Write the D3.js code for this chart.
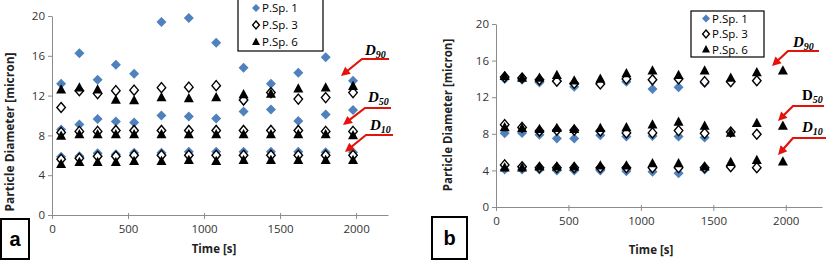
<!DOCTYPE html>
<html>
<head>
<meta charset="utf-8">
<script src="https://cdn.jsdelivr.net/npm/d3@7"></script>
<style>
  body { margin: 0; background: #fff; }
  svg { display: block; font-family: "Open Sans", "DejaVu Sans", sans-serif; }
</style>
</head>
<body>
<div id="chart"></div>
<script>
// sample times [s]
times = [60, 180, 300, 420, 540, 720, 900, 1080, 1260, 1440, 1620, 1800, 1980]
seriesNames = ["P.Sp. 1", "P.Sp. 3", "P.Sp. 6"]
yTicks = [0, 4, 8, 12, 16, 20]
xTicks = [0, 500, 1000, 1500, 2000]

// panel a  (D90, D50, D10 per series)
a_sp1_d90 = [13.2, 16.25, 13.6, 15.1, 14.2, 19.4, 19.8, 17.3, 14.8, 13.2, 14.3, 15.85, 13.5]
a_sp1_d50 = [8.6, 9.1, 9.65, 9.4, 9.3, 10.0, 9.9, 9.7, 10.4, 10.6, 9.45, 10.1, 10.55]
a_sp1_d10 = [5.85, 5.9, 6.2, 6.1, 6.25, 6.25, 6.35, 6.35, 6.35, 6.35, 6.35, 6.3, 6.3]
a_sp3_d90 = [10.8, 12.5, 12.2, 12.5, 12.55, 12.8, 12.85, 13.0, 11.55, 12.3, 11.65, 11.8, 12.3]
a_sp3_d50 = [8.3, 8.4, 8.4, 8.5, 8.5, 8.5, 8.5, 8.5, 8.5, 8.5, 8.5, 8.4, 8.4]
a_sp3_d10 = [5.6, 5.7, 5.9, 5.9, 6.0, 6.0, 6.0, 6.0, 6.0, 6.0, 6.0, 6.0, 6.0]
a_sp6_d90 = [12.6, 12.8, 12.6, 11.55, 11.5, 11.8, 11.7, 11.8, 12.1, 12.15, 12.7, 12.8, 12.95]
a_sp6_d50 = [7.95, 8.1, 8.1, 8.1, 8.1, 8.1, 8.1, 8.1, 8.1, 8.1, 8.1, 8.1, 8.0]
a_sp6_d10 = [5.1, 5.3, 5.3, 5.3, 5.4, 5.4, 5.5, 5.4, 5.5, 5.5, 5.5, 5.5, 5.5]

// panel b  (null = no point)
b_sp1_d90 = [14.0, 13.9, 13.6, 13.8, 13.15, 13.5, 13.7, 12.9, 13.1, 13.55, null, null, null]
b_sp1_d50 = [8.05, 8.1, 7.9, 7.5, 7.5, 7.85, 7.7, 7.75, 7.7, 7.6, null, null, null]
b_sp1_d10 = [4.1, 4.1, 4.1, 4.0, 4.0, 4.0, 3.9, 3.85, 3.7, 4.1, null, null, null]
b_sp3_d90 = [14.2, 14.1, 13.9, 13.75, 13.5, 13.45, 14.0, 13.9, 14.0, 13.7, 13.7, 13.8, null]
b_sp3_d50 = [9.0, 8.7, 8.3, 8.4, 8.4, 8.3, 8.1, 8.1, 8.35, 8.05, 8.2, 7.95, null]
b_sp3_d10 = [4.6, 4.4, 4.3, 4.3, 4.3, 4.3, 4.3, 4.3, 4.3, 4.3, 4.4, 4.3, null]
b_sp6_d90 = [14.3, 14.1, 14.1, 14.4, 13.8, 14.0, 14.6, 14.9, 14.4, 14.9, 14.1, 14.7, 14.9]
b_sp6_d50 = [8.7, 8.6, 8.5, 8.6, 8.5, 8.6, 8.7, 9.0, 9.3, 8.85, 8.1, 9.15, 8.85]
b_sp6_d10 = [4.3, 4.3, 4.4, 4.4, 4.4, 4.5, 4.5, 4.75, 4.75, 4.4, 4.9, 5.1, 4.95]

const blue = "#4f81bd"
const axisGrey = "#8c8c8c"
const arrowRed = "#e3120b"

const svg = d3.select("#chart").append("svg")
    .attr("width", 839)
    .attr("height", 264)

function marker(g, kind, x, y, s) {
    if (kind == 0) {
        g.append("path")
            .attr("d", `M${x},${y - s}L${x + s},${y}L${x},${y + s}L${x - s},${y}Z`)
            .attr("fill", blue)
    } else if (kind == 1) {
        g.append("path")
            .attr("d", `M${x},${y - s}L${x + s * 0.85},${y}L${x},${y + s}L${x - s * 0.85},${y}Z`)
            .attr("fill", "#fff")
            .attr("stroke", "#000")
            .attr("stroke-width", 1.4)
    } else {
        g.append("path")
            .attr("d", `M${x},${y - s * 1.1}L${x + s},${y + s * 0.75}L${x - s},${y + s * 0.75}Z`)
            .attr("fill", "#000")
    }
}

function drawPanel(p) {
    const x = d3.scaleLinear().domain([0, p.xMax]).range([p.left, p.right])
    const y = d3.scaleLinear().domain([0, 20]).range([p.bottom, p.top])
    const g = svg.append("g")

    const yAxis = g.append("g")
        .attr("transform", `translate(${p.left},0)`)
        .call(d3.axisLeft(y).tickValues(yTicks).tickSize(4).tickSizeOuter(0))
    const xAxis = g.append("g")
        .attr("transform", `translate(0,${p.bottom})`)
        .call(d3.axisBottom(x).tickValues(xTicks).tickFormat(d3.format("d")).tickSize(4).tickSizeOuter(0))
    for (const ax of [yAxis, xAxis]) {
        ax.select(".domain").attr("stroke", axisGrey)
        ax.selectAll(".tick line").attr("stroke", axisGrey)
        ax.selectAll("text").attr("font-size", 11.5).attr("fill", "#333")
            .attr("font-family", "'Open Sans', sans-serif")
    }
    xAxis.selectAll(".tick line").attr("y1", -2)
    xAxis.selectAll("text").attr("dy", "0.9em").attr("y", 8)
    yAxis.selectAll("text").attr("x", -7)

    // axis titles
    g.append("text")
        .attr("transform", `translate(${p.yTitleX},${p.yTitleY}) rotate(-90)`)
        .attr("text-anchor", "middle")
        .attr("font-size", p.yTitleSize).attr("font-weight", "bold").attr("fill", "#222")
        .text("Particle Diameter [micron]")
    g.append("text")
        .attr("x", p.xTitleX).attr("y", p.xTitleY)
        .attr("text-anchor", "middle")
        .attr("font-size", 11.5).attr("font-weight", "bold").attr("fill", "#222")
        .text("Time [s]")

    // points: draw series 1, then 3, then 6 so triangles sit on top
    const pts = g.append("g")
    p.series.forEach((groups, k) => {
        for (const vals of groups) {
            vals.forEach((v, i) => {
                if (v != null) marker(pts, k, x(times[i]), y(v), 5)
            })
        }
    })

    // legend
    const lg = g.append("g")
    lg.append("rect")
        .attr("x", p.legX).attr("y", p.legY).attr("width", p.legW).attr("height", p.legH)
        .attr("fill", "#fff").attr("stroke", "#000").attr("stroke-width", 1.2)
    seriesNames.forEach((name, k) => {
        const ly = p.legY + p.legRow0 + k * p.legStep
        marker(lg, k, p.legX + p.legMarkX, ly, 4)
        lg.append("text")
            .attr("x", p.legX + p.legMarkX + 6).attr("y", ly + 4)
            .attr("font-size", 11.5).attr("fill", "#000")
            .text(name)
    })

    // panel letter box
    g.append("rect")
        .attr("x", p.boxX).attr("y", p.boxY).attr("width", p.boxW).attr("height", p.boxH)
        .attr("fill", "#fff").attr("stroke", "#000").attr("stroke-width", 2)
    g.append("text")
        .attr("x", p.boxX + p.boxW / 2).attr("y", p.boxY + p.boxH / 2 + 7)
        .attr("text-anchor", "middle")
        .attr("font-size", 20).attr("font-weight", "bold")
        .attr("font-family", "'Liberation Sans', Arial, sans-serif")
        .text(p.letter)

    // D labels with red arrows
    for (const d of p.dLabels) {
        const t = g.append("text")
            .attr("x", d.tx).attr("y", d.ty)
            .attr("font-family", "'Liberation Serif', 'Times New Roman', serif")
            .attr("font-weight", "bold")
            .attr("font-style", d.italic ? "italic" : "normal")
        t.append("tspan").attr("font-size", 15).text("D")
        t.append("tspan").attr("font-size", 10).attr("font-style", "italic").attr("dy", 3).text(d.sub)

        g.append("path")
            .attr("d", `M${d.x0},${d.y0}L${d.x1},${d.y0}L${d.x2 + (d.x1 - d.x2) * 0.28},${d.y2 - (d.y2 - d.y0) * 0.28}`)
            .attr("fill", "none").attr("stroke", arrowRed).attr("stroke-width", 2.2)
        // arrowhead
        const ang = Math.atan2(d.y2 - d.y0, d.x2 - d.x1)
        const L = 9, W = 4.5
        const bx = d.x2 - L * Math.cos(ang), by = d.y2 - L * Math.sin(ang)
        const nx = -Math.sin(ang) * W, ny = Math.cos(ang) * W
        g.append("path")
            .attr("d", `M${d.x2},${d.y2}L${bx + nx},${by + ny}L${bx - nx},${by - ny}Z`)
            .attr("fill", arrowRed)
    }
}

drawPanel({
    left: 52, right: 388, top: 16, bottom: 215, xMax: 2210,
    yTitleX: 14, yTitleY: 132, yTitleSize: 12, xTitleX: 214, xTitleY: 253,
    series: [[a_sp1_d90, a_sp1_d50, a_sp1_d10], [a_sp3_d90, a_sp3_d50, a_sp3_d10], [a_sp6_d90, a_sp6_d50, a_sp6_d10]],
    legX: 238, legY: -1, legW: 85, legH: 52, legRow0: 9, legStep: 17, legMarkX: 18,
    boxX: 1, boxY: 219, boxW: 28, boxH: 40, letter: "a",
    dLabels: [
        { tx: 365, ty: 55, sub: "90", italic: true, x0: 389, y0: 59, x1: 362, x2: 341, y2: 76 },
        { tx: 368, ty: 102, sub: "50", italic: true, x0: 391, y0: 108, x1: 365, x2: 343, y2: 125 },
        { tx: 370, ty: 130, sub: "10", italic: true, x0: 393, y0: 135, x1: 366, x2: 345, y2: 152 }
    ]
})

drawPanel({
    left: 496, right: 822, top: 24, bottom: 207, xMax: 2250,
    yTitleX: 452, yTitleY: 115, yTitleSize: 11.5, xTitleX: 651, xTitleY: 254,
    series: [[b_sp1_d90, b_sp1_d50, b_sp1_d10], [b_sp3_d90, b_sp3_d50, b_sp3_d10], [b_sp6_d90, b_sp6_d50, b_sp6_d10]],
    legX: 691, legY: 11, legW: 73, legH: 46, legRow0: 7.5, legStep: 15.5, legMarkX: 15,
    boxX: 432, boxY: 217, boxW: 35, boxH: 42, letter: "b",
    dLabels: [
        { tx: 793, ty: 47, sub: "90", italic: true, x0: 819, y0: 51, x1: 788, x2: 772, y2: 66 },
        { tx: 802, ty: 100, sub: "50", italic: false, x0: 824, y0: 106, x1: 793, x2: 778, y2: 121 },
        { tx: 802, ty: 132, sub: "10", italic: true, x0: 826, y0: 138, x1: 793, x2: 778, y2: 155 }
    ]
})
</script>
</body>
</html>
